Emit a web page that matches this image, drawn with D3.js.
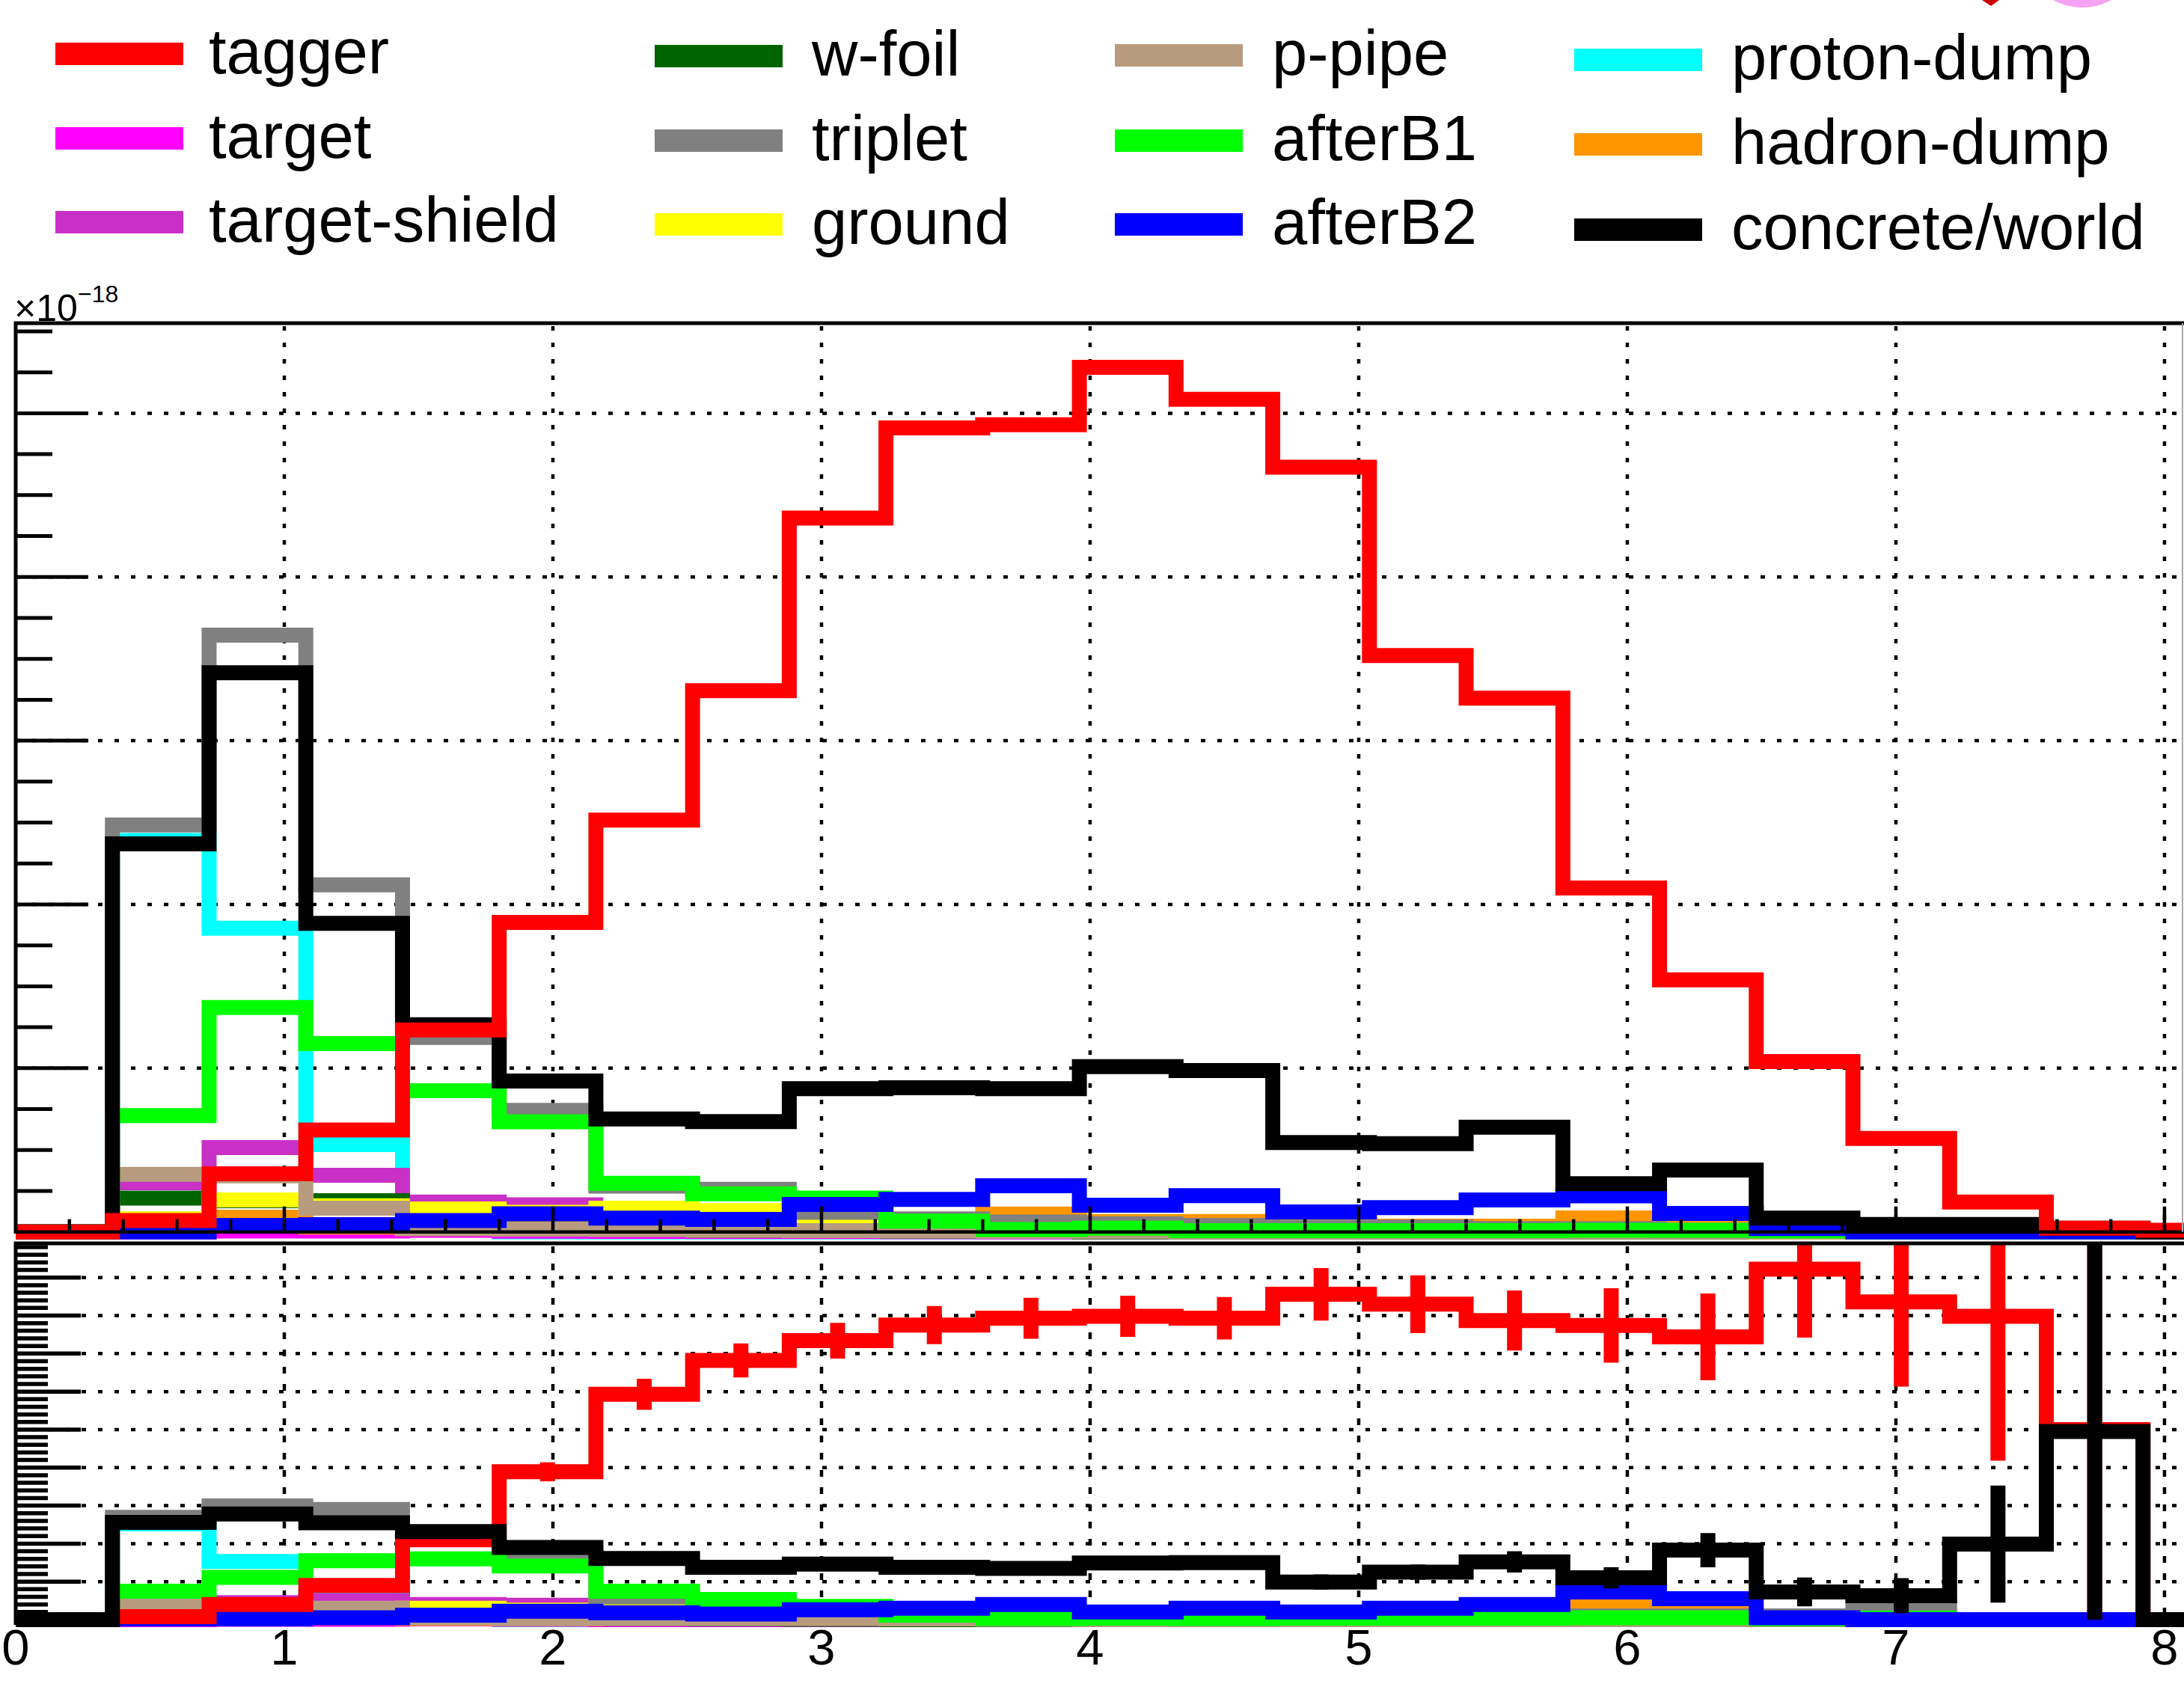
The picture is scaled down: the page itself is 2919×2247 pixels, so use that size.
<!DOCTYPE html>
<html><head><meta charset="utf-8">
<script src="https://cdn.jsdelivr.net/npm/d3@7"></script>
<style>
html,body{margin:0;padding:0;background:#fff;}
svg{display:block;}
text{font-family:"Liberation Sans",Arial,Helvetica,sans-serif;fill:#000;}
</style>
</head><body>
<svg id="chart" width="2919" height="2247"></svg>
<script>
// ---------------- DATA ----------------
const binEdges = [0,0.36,0.72,1.08,1.44,1.80,2.16,2.52,2.88,3.24,3.60,3.96,4.32,4.68,5.04,5.40,5.76,6.12,6.48,6.84,7.20,7.56,7.92,8.28];
const xTickValues = [0,1,2,3,4,5,6,7,8];
const xTickLabels = ["0","1","2","3","4","5","6","7","8"];
const exponentLabel = "\u00d710";
const exponentPower = "\u221218";

// legend order (column by column)
const seriesNames  = ["tagger","target","target-shield","w-foil","triplet","ground","p-pipe","afterB1","afterB2","proton-dump","hadron-dump","concrete/world"];
const seriesColors = ["#ff0000","#ff00ff","#c930c6","#006400","#808080","#ffff00","#b89b7f","#00ff00","#0000ff","#00ffff","#ff9600","#000000"];

// upper panel (x10^-18), 23 bins
const upTagger   = [0.0,0.069,0.355,0.622,1.233,1.89,2.515,3.305,4.36,4.91,4.93,5.28,5.085,4.67,3.52,3.26,2.10,1.54,1.04,0.571,0.183,0.023,0.01];
const upTarget   = [0,0,0.005,0.005,0.01,0.004,0.003,0.002,0.002,0.001,0,0,0,0,0,0,0,0,0,0,0,0,0];
const upTShield  = [0,0.30,0.515,0.346,0.183,0.165,0.10,0.06,0.04,0.03,0.02,0.015,0.01,0.01,0.005,0.005,0.005,0,0,0,0,0,0];
const upWFoil    = [0,0.206,0.19,0.19,0.05,0.03,0.02,0.01,0.01,0.005,0.005,0,0,0,0,0,0,0,0,0,0,0,0];
const upTriplet  = [0,2.485,3.645,2.12,1.188,0.742,0.28,0.26,0.12,0.08,0.06,0.05,0.04,0.03,0.03,0.02,0.02,0.01,0.01,0.03,0,0,0];
const upGround   = [0,0.08,0.195,0.16,0.14,0.12,0.145,0.13,0.078,0.05,0.04,0.046,0.03,0.03,0.02,0.01,0.01,0.005,0,0,0,0,0];
const upPPipe    = [0,0.352,0.343,0.145,0.02,0.017,0.015,0.01,0.008,0.005,0.003,0.002,0,0,0,0,0,0,0,0,0,0,0];
const upAfterB1  = [0,0.71,1.37,1.15,0.862,0.672,0.297,0.233,0.206,0.066,0.015,0.023,0.008,0.008,0.008,0.008,0.01,0.01,0.005,0,0,0,0];
const upAfterB2  = [0,0.0,0.04,0.044,0.07,0.111,0.084,0.076,0.168,0.198,0.282,0.163,0.221,0.122,0.148,0.195,0.22,0.113,0.02,0,0,0,0];
const upPDump    = [0,2.39,1.855,0.533,0.05,0,0,0,0,0,0,0,0,0,0,0,0,0,0,0,0,0,0];
const upHDump    = [0,0.05,0.09,0.03,0.02,0.02,0.02,0.02,0.03,0.04,0.11,0.064,0.064,0.04,0.035,0.035,0.085,0.04,0.01,0,0,0,0];
const upConcrete = [0,2.37,3.415,1.884,1.265,0.922,0.69,0.674,0.875,0.88,0.875,1.01,0.985,0.546,0.539,0.639,0.294,0.378,0.084,0.046,0.046,0.023,0];

// lower panel (fractions), 23 bins
const loTagger   = [0,0.008,0.04,0.09,0.21,0.389,0.593,0.682,0.734,0.775,0.793,0.798,0.793,0.856,0.83,0.787,0.774,0.744,0.922,0.836,0.798,0.5,0];
const loTaggerErr= [0,0.003,0.006,0.01,0.015,0.025,0.041,0.045,0.047,0.05,0.054,0.054,0.056,0.069,0.076,0.079,0.098,0.114,0.18,0.223,0.38,0.5,0];
const loTarget   = [0,0,0.001,0.001,0.002,0.001,0,0,0,0,0,0,0,0,0,0,0,0,0,0,0,0,0];
const loTShield  = [0,0.03,0.045,0.05,0.04,0.038,0.02,0.012,0.008,0.005,0.003,0.002,0.001,0,0,0,0,0,0,0,0,0,0];
const loWFoil    = [0,0.023,0.02,0.025,0.01,0.005,0.003,0.002,0.001,0,0,0,0,0,0,0,0,0,0,0,0,0,0];
const loTriplet  = [0,0.269,0.299,0.29,0.215,0.175,0.06,0.05,0.03,0.02,0.015,0.01,0.01,0.01,0.01,0.01,0.01,0.01,0.01,0.035,0,0,0];
const loGround   = [0,0.009,0.02,0.022,0.03,0.025,0.035,0.03,0.017,0.01,0.008,0.007,0.006,0.004,0.003,0.002,0.002,0.001,0,0,0,0,0];
const loPPipe    = [0,0.036,0.035,0.03,0.005,0.003,0.003,0.003,0.003,0.002,0.001,0,0,0,0,0,0,0,0,0,0,0,0];
const loAfterB1  = [0,0.075,0.111,0.155,0.16,0.141,0.075,0.053,0.035,0.012,0.003,0.004,0.003,0.004,0.004,0.004,0.005,0.005,0.002,0.004,0,0,0];
const loAfterB2  = [0,0.002,0.002,0.005,0.012,0.022,0.018,0.015,0.026,0.03,0.04,0.02,0.03,0.02,0.03,0.04,0.073,0.055,0.005,0,0,0,0];
const loPDump    = [0,0.252,0.153,0.079,0.01,0,0,0,0,0,0,0,0,0,0,0,0,0,0,0,0,0,0];
const loHDump    = [0,0.005,0.015,0.005,0.003,0.003,0.005,0.005,0.007,0.01,0.02,0.012,0.012,0.01,0.01,0.01,0.036,0.02,0.005,0,0,0,0];
const loConcrete = [0,0.256,0.278,0.255,0.232,0.19,0.161,0.138,0.146,0.138,0.135,0.149,0.15,0.099,0.125,0.152,0.11,0.183,0.073,0.063,0.199,0.495,0];
const loConcreteErr=[0,0.004,0.004,0.005,0.006,0.008,0.009,0.01,0.012,0.012,0.012,0.012,0.012,0.02,0.02,0.028,0.028,0.045,0.038,0.046,0.154,0.495,0];

// ---------------- BUILD ----------------
const upperVals = {"tagger":upTagger,"target":upTarget,"target-shield":upTShield,"w-foil":upWFoil,"triplet":upTriplet,"ground":upGround,"p-pipe":upPPipe,"afterB1":upAfterB1,"afterB2":upAfterB2,"proton-dump":upPDump,"hadron-dump":upHDump,"concrete/world":upConcrete};
const lowerVals = {"tagger":loTagger,"target":loTarget,"target-shield":loTShield,"w-foil":loWFoil,"triplet":loTriplet,"ground":loGround,"p-pipe":loPPipe,"afterB1":loAfterB1,"afterB2":loAfterB2,"proton-dump":loPDump,"hadron-dump":loHDump,"concrete/world":loConcrete};
const lowerErr = {"tagger":loTaggerErr,"concrete/world":loConcreteErr};
const colorOf = {}; seriesNames.forEach((n,i)=>colorOf[n]=seriesColors[i]);

const upperOrder = ["proton-dump","target","target-shield","w-foil","hadron-dump","ground","p-pipe","triplet","afterB1","afterB2","concrete/world","tagger"];
const lowerOrder = ["proton-dump","target","target-shield","w-foil","hadron-dump","ground","p-pipe","triplet","afterB1","afterB2","tagger","concrete/world"];

const svg = d3.select("#chart");
svg.append("rect").attr("width",2919).attr("height",2247).attr("fill","#fff");

const x = d3.scaleLinear().domain([0,8.067]).range([21,2917]);
const yUp = d3.scaleLinear().domain([0,5.55]).range([1646.7,432]);
const yLo = d3.scaleLinear().domain([0,0.99]).range([2165,1662]);

const LW = 20;
const defs = svg.append("defs");
defs.append("clipPath").attr("id","clipUp").append("rect").attr("x",21).attr("y",432).attr("width",2898).attr("height",1226);
defs.append("clipPath").attr("id","clipLo").append("rect").attr("x",21).attr("y",1662).attr("width",2898).attr("height",516);

function stepPath(vals, y){
  const pts = vals.map((v,i)=>[x(binEdges[i]), y(v)]);
  pts.push([x(binEdges[vals.length]), y(vals[vals.length-1])]);
  return d3.line().curve(d3.curveStepAfter)(pts);
}
const dotted = "6,16";
const GW = 4.5;

// ---------- UPPER PANEL ----------
const gUp = svg.append("g");
const upGrid = gUp.append("g").attr("stroke","#000").attr("stroke-width",GW).attr("stroke-dasharray",dotted);
upGrid.selectAll("line.h").data([1,2,3,4,5]).join("line").attr("class","h")
  .attr("x1",x(0)).attr("x2",2919).attr("y1",d=>yUp(d)).attr("y2",d=>yUp(d));
upGrid.selectAll("line.v").data([1,2,3,4,5,6,7,8]).join("line").attr("class","v")
  .attr("x1",d=>x(d)).attr("x2",d=>x(d)).attr("y1",436).attr("y2",yUp(0));

const upData = gUp.append("g").attr("clip-path","url(#clipUp)");
upperOrder.forEach(n=>{
  upData.append("path").attr("d",stepPath(upperVals[n],yUp)).attr("fill","none")
    .attr("stroke",colorOf[n]).attr("stroke-width",LW).attr("stroke-linejoin","miter").attr("stroke-linecap","butt");
});

// x ticks (upper, inside)
const upX = gUp.append("g").attr("stroke","#000").attr("stroke-width",4.5);
const minorX = d3.range(1,41).map(i=>i*0.2).filter(v=>Math.abs(v-Math.round(v))>1e-6);
upX.selectAll("line.mn").data(minorX).join("line").attr("class","mn")
  .attr("x1",d=>x(d)).attr("x2",d=>x(d)).attr("y1",yUp(0)).attr("y2",yUp(0)-17);
upX.selectAll("line.mj").data([1,2,3,4,5,6,7,8]).join("line").attr("class","mj")
  .attr("x1",d=>x(d)).attr("x2",d=>x(d)).attr("y1",yUp(0)).attr("y2",yUp(0)-34);

// y ticks (upper)
const upY = gUp.append("g").attr("stroke","#000").attr("stroke-width",5);
const minorYU = d3.range(1,23).map(i=>i*0.25).filter(v=>Math.abs(v-Math.round(v))>1e-6);
upY.selectAll("line.mn").data(minorYU).join("line").attr("class","mn")
  .attr("x1",21).attr("x2",70).attr("y1",d=>yUp(d)).attr("y2",d=>yUp(d));
upY.selectAll("line.mj").data([1,2,3,4,5]).join("line").attr("class","mj")
  .attr("x1",21).attr("x2",118).attr("y1",d=>yUp(d)).attr("y2",d=>yUp(d));

// frame upper
gUp.append("line").attr("x1",19).attr("x2",2919).attr("y1",432).attr("y2",432).attr("stroke","#000").attr("stroke-width",5);
gUp.append("line").attr("x1",21).attr("x2",21).attr("y1",430).attr("y2",yUp(0)+2).attr("stroke","#000").attr("stroke-width",5);
gUp.append("line").attr("x1",19).attr("x2",2919).attr("y1",yUp(0)).attr("y2",yUp(0)).attr("stroke","#000").attr("stroke-width",4.5);
gUp.append("line").attr("x1",2917).attr("x2",2917).attr("y1",432).attr("y2",yUp(0)).attr("stroke","#aaa").attr("stroke-width",2);

// exponent
svg.append("text").attr("x",19).attr("y",429).attr("font-size",50).text(exponentLabel);
svg.append("text").attr("x",104).attr("y",404).attr("font-size",32).text(exponentPower);

// ---------- LOWER PANEL ----------
const gLo = svg.append("g");
const loGrid = gLo.append("g").attr("stroke","#000").attr("stroke-width",GW).attr("stroke-dasharray",dotted);
loGrid.selectAll("line.h").data([0.1,0.2,0.3,0.4,0.5,0.6,0.7,0.8,0.9]).join("line").attr("class","h")
  .attr("x1",x(0)).attr("x2",2919).attr("y1",d=>yLo(d)).attr("y2",d=>yLo(d));
loGrid.selectAll("line.v").data([1,2,3,4,5,6,7,8]).join("line").attr("class","v")
  .attr("x1",d=>x(d)).attr("x2",d=>x(d)).attr("y1",1666).attr("y2",yLo(0)).attr("stroke-dasharray","9,14");
gLo.append("line").attr("x1",21).attr("x2",2919).attr("y1",yLo(0)).attr("y2",yLo(0)).attr("stroke","#000").attr("stroke-width",4);

const loData = gLo.append("g").attr("clip-path","url(#clipLo)");
lowerOrder.forEach(n=>{
  const vals = lowerVals[n];
  loData.append("path").attr("d",stepPath(vals,yLo)).attr("fill","none")
    .attr("stroke",colorOf[n]).attr("stroke-width",LW).attr("stroke-linejoin","miter").attr("stroke-linecap","butt");
  if(lowerErr[n]){
    const err = lowerErr[n];
    loData.append("g").selectAll("line").data(vals.map((v,i)=>({v,e:err[i],c:(binEdges[i]+binEdges[i+1])/2})).filter(d=>d.e>0))
      .join("line").attr("x1",d=>x(d.c)).attr("x2",d=>x(d.c))
      .attr("y1",d=>yLo(d.v-d.e)).attr("y2",d=>yLo(d.v+d.e))
      .attr("stroke",colorOf[n]).attr("stroke-width",LW);
  }
});

// y ticks lower
const loY = gLo.append("g").attr("stroke","#000").attr("stroke-width",5.5);
const minorYL = d3.range(1,50).map(i=>i*0.02).filter(v=>Math.abs(v*10-Math.round(v*10))>1e-6);
loY.selectAll("line.mn").data(minorYL).join("line").attr("class","mn")
  .attr("x1",21).attr("x2",64).attr("y1",d=>yLo(d)).attr("y2",d=>yLo(d));
loY.selectAll("line.mj").data([0.1,0.2,0.3,0.4,0.5,0.6,0.7,0.8,0.9]).join("line").attr("class","mj")
  .attr("x1",21).attr("x2",108).attr("y1",d=>yLo(d)).attr("y2",d=>yLo(d));

// frame lower
gLo.append("line").attr("x1",19).attr("x2",2919).attr("y1",1662).attr("y2",1662).attr("stroke","#000").attr("stroke-width",5);
gLo.append("line").attr("x1",21).attr("x2",21).attr("y1",1660).attr("y2",2172).attr("stroke","#000").attr("stroke-width",5);

// x labels
svg.append("g").selectAll("text").data(xTickValues).join("text")
  .attr("x",d=>x(d)).attr("y",2225).attr("text-anchor","middle").attr("font-size",67)
  .text((d,i)=>xTickLabels[i]);

// ---------- LEGEND ----------
const legColX = [74, 875, 1490, 2104];
const legTextX = [279, 1085, 1700, 2314];
const legRowY = [[72,185,297],[75,188,300],[74,188,300],[80,193,307]];
const leg = svg.append("g");
seriesNames.forEach((n,i)=>{
  const c = Math.floor(i/3), r = i%3;
  const cy = legRowY[c][r];
  leg.append("rect").attr("x",legColX[c]).attr("y",cy-15).attr("width",171).attr("height",30).attr("fill",colorOf[n]);
  leg.append("text").attr("x",legTextX[c]).attr("y",cy+26).attr("font-size",85).text(n);
});

// partial logo at top-right edge
svg.append("ellipse").attr("cx",2783).attr("cy",-42).attr("rx",66).attr("ry",52).attr("fill","#f7a3f3");
svg.append("path").attr("d","M2649,0 L2661,8 L2672,0 Z").attr("fill","#cc0000");
</script>
</body></html>
